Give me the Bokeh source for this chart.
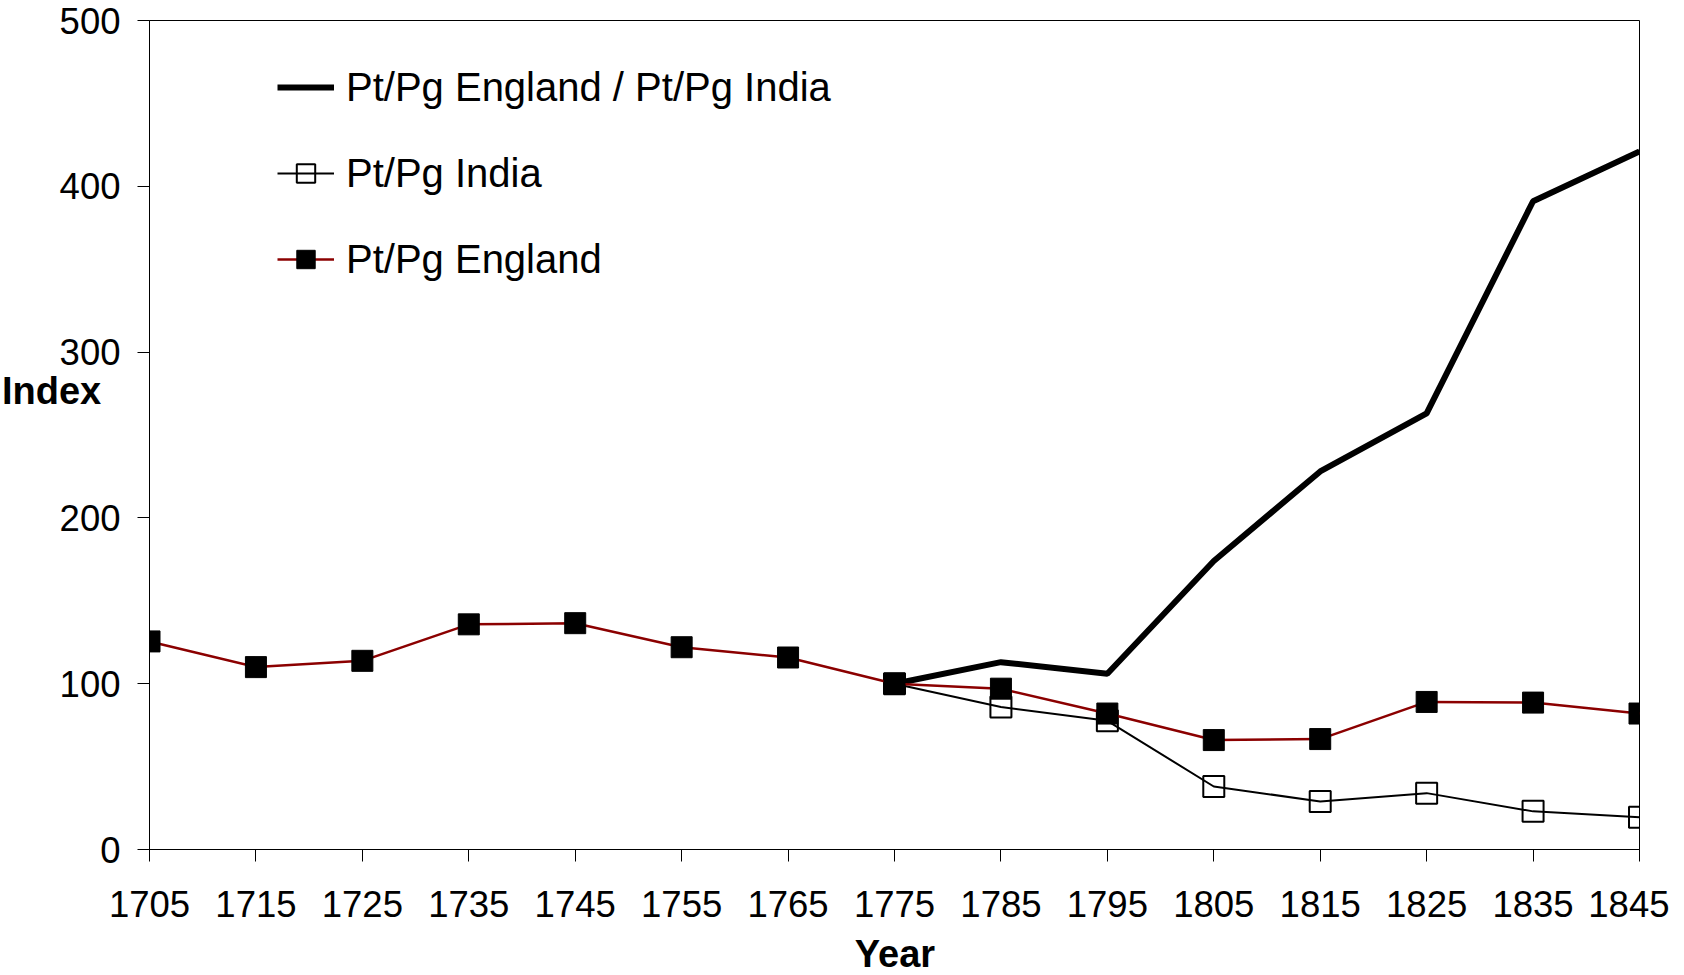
from bokeh.plotting import figure
from bokeh.models import Range1d, FixedTicker, Legend, LegendItem, GridBox, Div
from bokeh.embed import file_html
from bokeh.resources import INLINE

years = [1705, 1715, 1725, 1735, 1745, 1755, 1765, 1775, 1785, 1795, 1805, 1815, 1825, 1835, 1845]
england = [125.5, 110, 113.8, 135.8, 136.5, 122, 115.8, 100, 97, 82, 66, 66.6, 89, 88.6, 82]
india_years = [1775, 1785, 1795, 1805, 1815, 1825, 1835, 1845]
india = [100, 86, 77.6, 38, 29, 34, 23, 19.4]
ratio = [100, 113, 106, 174, 228, 263, 391, 421]

x_ticks = list(range(1705, 1846, 10))
y_ticks = [0, 100, 200, 300, 400, 500]

FONT = "Liberation Sans"
W, H = 1669, 975

p = figure(width=W, height=H, output_backend="svg", toolbar_location=None,
           x_range=Range1d(1705, 1845), y_range=Range1d(0, 500),
           min_border_left=149, min_border_top=20, min_border_right=30, min_border_bottom=126)
p.xgrid.visible = False
p.ygrid.visible = False
p.outline_line_color = "black"
p.outline_line_width = 1
p.background_fill_color = "white"
p.border_fill_color = "white"

for ax in (p.xaxis[0], p.yaxis[0]):
    ax.major_label_text_font = FONT
    ax.major_label_text_font_size = "36.5px"
    ax.major_label_text_color = "black"
    ax.axis_line_color = "black"
    ax.axis_line_width = 1
    ax.major_tick_line_color = "black"
    ax.major_tick_in = 0
    ax.major_tick_out = 12
    ax.minor_tick_line_color = None

p.xaxis.ticker = FixedTicker(ticks=x_ticks)
p.yaxis.ticker = FixedTicker(ticks=y_ticks)
p.xaxis.major_label_standoff = 29
p.yaxis.major_label_standoff = 17

r_ratio = p.line(india_years, ratio, line_color="black", line_width=6)

r_india_l = p.line(india_years, india, line_color="black", line_width=2)
r_india_m = p.scatter(india_years, india, marker="square", size=21, fill_alpha=0,
                      line_color="black", line_width=2)

r_eng_l = p.line(years, england, line_color="#8b0000", line_width=2.5)
r_eng_m = p.scatter(years, england, marker="square", size=21, fill_color="black",
                    line_color="black", line_width=1)

legend = Legend(items=[
    LegendItem(label="Pt/Pg England / Pt/Pg India", renderers=[r_ratio]),
    LegendItem(label="Pt/Pg India", renderers=[r_india_l, r_india_m]),
    LegendItem(label="Pt/Pg England", renderers=[r_eng_l, r_eng_m]),
], location=(128, 567))
legend.label_text_font = FONT
legend.label_text_font_size = "40px"
legend.label_text_color = "black"
legend.glyph_width = 57
legend.glyph_height = 46
legend.label_height = 46
legend.spacing = 40
legend.label_standoff = 12
legend.padding = 0
legend.margin = 0
legend.border_line_color = None
legend.background_fill_alpha = 0
p.add_layout(legend)

# Axis titles: a transparent overlay in the same grid cell, so that they can sit
# outside the plot frame (where Bokeh clips annotations) exactly as in the reference.
y_title = "Index"
x_title = "Year"
title_style = "font-family:'Liberation Sans';font-weight:bold;font-size:38px;line-height:38px;color:black;white-space:nowrap;"
overlay_html = (
    f'<div style="position:relative;width:{W}px;height:{H}px;overflow:hidden;pointer-events:none;">'
    f'<span style="position:absolute;left:2px;top:372px;{title_style}">{y_title}</span>'
    f'<span style="position:absolute;left:795px;top:935px;width:200px;text-align:center;{title_style}">{x_title}</span>'
    '</div>'
)
overlay = Div(text=overlay_html, width=W, height=H, margin=0)

layout = GridBox(children=[(p, 0, 0), (overlay, 0, 0)])

open("out.html", "w").write(file_html(layout, INLINE))
